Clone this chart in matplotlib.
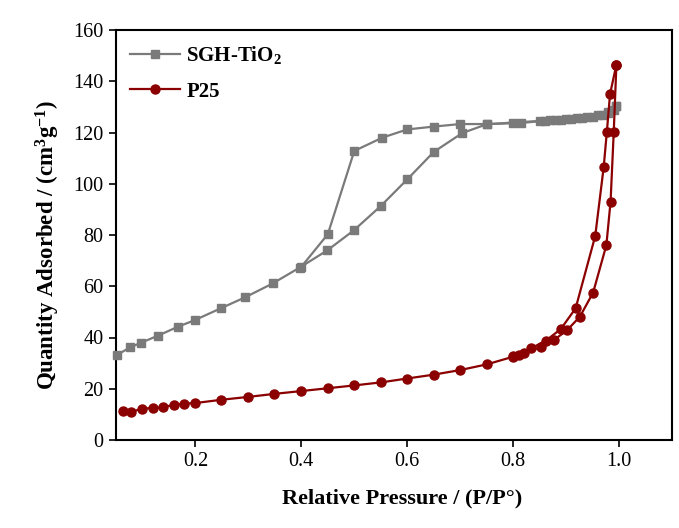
import matplotlib
matplotlib.use("Agg")
import matplotlib.pyplot as plt
import numpy as np

# SGH-TiO2 adsorption / desorption branches
sgh_ads_x = [0.052, 0.077, 0.098, 0.129, 0.167, 0.199, 0.249, 0.294, 0.346, 0.397,
             0.449, 0.499, 0.55, 0.60, 0.65, 0.704, 0.75, 0.80, 0.85, 0.87, 0.89,
             0.91, 0.93, 0.95, 0.97, 0.98, 0.99, 0.995]
sgh_ads_y = [33.2, 36.2, 38.0, 40.7, 44.2, 46.8, 51.5, 55.7, 61.1, 67.3,
             74.0, 81.8, 91.3, 101.7, 112.4, 119.8, 123.2, 123.9, 124.5, 124.8, 125.0,
             125.3, 125.7, 126.2, 127.0, 127.8, 128.8, 130.2]
sgh_des_x = [0.995, 0.98, 0.96, 0.94, 0.92, 0.90, 0.88, 0.86, 0.814, 0.75, 0.70,
             0.65, 0.60, 0.553, 0.50, 0.45, 0.40]
sgh_des_y = [130.2, 128.0, 126.8, 126.0, 125.5, 125.1, 124.8, 124.6, 123.7, 123.3, 123.3,
             122.3, 121.2, 118.0, 112.8, 80.3, 67.6]

# P25 adsorption / desorption branches
p25_ads_x = [0.064, 0.079, 0.099, 0.119, 0.139, 0.159, 0.178, 0.199, 0.249, 0.299,
             0.349, 0.40, 0.45, 0.50, 0.551, 0.60, 0.65, 0.70, 0.75, 0.80, 0.821,
             0.852, 0.877, 0.902, 0.926, 0.951, 0.976, 0.984, 0.99, 0.995]
p25_ads_y = [11.4, 11.1, 12.1, 12.6, 12.7, 13.8, 14.2, 14.4, 15.7, 16.8,
             18.0, 19.1, 20.2, 21.3, 22.5, 24.0, 25.5, 27.3, 29.5, 32.5, 33.8,
             36.2, 39.0, 42.9, 48.1, 57.5, 76.0, 93.0, 120.3, 146.5]
p25_des_x = [0.995, 0.983, 0.977, 0.971, 0.955, 0.918, 0.89, 0.862, 0.834, 0.811, 0.80]
p25_des_y = [146.5, 135.0, 120.3, 106.5, 79.6, 51.4, 43.3, 38.8, 35.8, 33.2, 32.8]

x_ticks = [0.2, 0.4, 0.6, 0.8, 1.0]
y_ticks = [0, 20, 40, 60, 80, 100, 120, 140, 160]

plt.rcParams['font.family'] = ['Liberation Serif', 'DejaVu Serif']
plt.rcParams['mathtext.fontset'] = 'custom'
plt.rcParams['mathtext.rm'] = 'Liberation Serif'
plt.rcParams['mathtext.bf'] = 'Liberation Serif:bold'
plt.rcParams['mathtext.it'] = 'Liberation Serif:italic'

fig = plt.figure(figsize=(6.79, 5.28), dpi=100)
ax = fig.add_axes([116/679, 1-440/528, (672-116)/679, (440-30)/528])

gray = '#7a7a7a'
red = '#8b0000'

ax.plot(sgh_ads_x, sgh_ads_y, '-s', color=gray, mfc=gray, mec=gray, ms=5.5, lw=1.6,
        label=r'SGH-TiO$_{\mathbf{2}}$', clip_on=False, zorder=3)
ax.plot(sgh_des_x, sgh_des_y, '-s', color=gray, mfc=gray, mec=gray, ms=5.5, lw=1.6,
        clip_on=False, zorder=3)
ax.plot(p25_ads_x, p25_ads_y, '-o', color=red, mfc=red, mec=red, ms=6.5, lw=1.6,
        label='P25', clip_on=False, zorder=4)
ax.plot(p25_des_x, p25_des_y, '-o', color=red, mfc=red, mec=red, ms=6.5, lw=1.6,
        clip_on=False, zorder=4)

ax.set_xlim(0.05, 1.1)
ax.set_ylim(0, 160)
ax.set_xticks(x_ticks)
ax.set_xticklabels([f'{v:.1f}' for v in x_ticks])
ax.set_yticks(y_ticks)
ax.tick_params(direction='out', length=5, width=1.2, labelsize=14.5, pad=4)
for s in ax.spines.values():
    s.set_linewidth(1.5)

ax.set_xlabel('Relative Pressure / (P/P°)', fontsize=16, fontweight='bold')
ax.set_ylabel(r'Quantity Adsorbed / (cm$^{\mathbf{3}}$g$^{\mathbf{-1}}$)', fontsize=16.5,
              fontweight='bold')
ax.xaxis.set_label_coords(0.515, -0.118)
ax.yaxis.set_label_coords(-0.098, 0.475)

leg = ax.legend(loc='upper left', frameon=False, prop={'weight': 'bold', 'size': 15},
                handlelength=2.4, handletextpad=0.3, borderaxespad=0, borderpad=0,
                labelspacing=0.75, bbox_to_anchor=(14/556, 1-14/410))

fig.savefig('out.png', dpi=100)
